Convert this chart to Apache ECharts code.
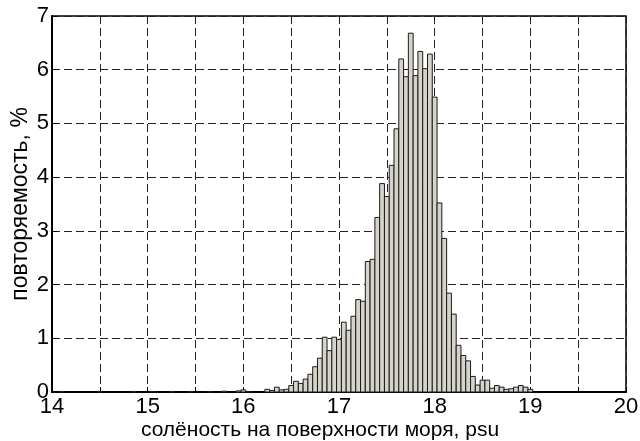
<!DOCTYPE html>
<html>
<head>
<meta charset="utf-8">
<script src="https://cdn.jsdelivr.net/npm/echarts@6/dist/echarts.min.js"></script>
<style>
  html, body { margin: 0; padding: 0; background: #fff; }
  #chart { width: 640px; height: 441px; }
</style>
</head>
<body>
<div id="chart"></div>
<script>
// Histogram of sea surface salinity: bin centres (psu) and frequency (%)
const binCenters = [
  14.10, 14.50, 14.85, 15.05, 15.25, 15.45, 15.65, 15.80, 15.95, 16.00,
  16.05, 16.25, 16.30, 16.35, 16.40, 16.45, 16.50, 16.55, 16.60, 16.65,
  16.70, 16.75, 16.80, 16.85, 16.90, 16.95, 17.00, 17.05, 17.10, 17.15,
  17.20, 17.25, 17.30, 17.35, 17.40, 17.45, 17.50, 17.55, 17.60, 17.65,
  17.70, 17.75, 17.80, 17.85, 17.90, 17.95, 18.00, 18.05, 18.10, 18.15,
  18.20, 18.25, 18.30, 18.35, 18.40, 18.45, 18.50, 18.55, 18.60, 18.65,
  18.70, 18.75, 18.80, 18.85, 18.90, 18.95, 19.00
];
const frequency = [
  0.01, 0.01, 0.01, 0.01, 0.01, 0.01, 0.01, 0.015, 0.02, 0.04,
  0.01, 0.05, 0.03, 0.09, 0.04, 0.05, 0.12, 0.20, 0.16, 0.24,
  0.33, 0.47, 0.63, 1.02, 0.77, 1.02, 0.98, 1.30, 1.15, 1.41,
  1.72, 1.69, 2.43, 2.47, 3.25, 3.88, 3.64, 4.22, 4.90, 6.20,
  5.87, 6.68, 5.89, 6.34, 6.02, 6.29, 5.49, 3.52, 2.86, 1.84,
  1.45, 0.87, 0.68, 0.58, 0.29, 0.13, 0.22, 0.22, 0.07, 0.12,
  0.09, 0.05, 0.06, 0.09, 0.12, 0.09, 0.05
];
const binWidth = 0.05;
const xTicks = [14, 15, 16, 17, 18, 19, 20];
const yTicks = [0, 1, 2, 3, 4, 5, 6, 7];
const xTitle = 'солёность на поверхности моря, psu';
const yTitle = 'повторяемость, %';

const FONT = 'Liberation Sans, Arial, sans-serif';
const xMin = xTicks[0], xMax = xTicks[xTicks.length - 1];

const gridLine = { show: true, lineStyle: { color: '#222', width: 1, type: [8, 4] } };

const chart = echarts.init(document.getElementById('chart'), null, { renderer: 'canvas' });
chart.setOption({
  animation: false,
  backgroundColor: '#ffffff',
  grid: {
    show: true, left: 52, top: 16, right: 14, bottom: 49,
    outerBoundsMode: 'none', containLabel: false,
    borderColor: '#000', borderWidth: 1.5, backgroundColor: 'transparent'
  },
  xAxis: {
    type: 'value',
    min: xMin,
    max: xMax,
    interval: 0.5,
    axisLine: { show: true, onZero: false, lineStyle: { color: '#000', width: 2 } },
    axisTick: { show: true, inside: true, length: 5, lineStyle: { color: '#000' } },
    axisLabel: {
      color: '#000', fontFamily: FONT, fontSize: 22, margin: 4,
      formatter: v => (xTicks.indexOf(v) >= 0 ? String(v) : '')
    },
    splitLine: gridLine
  },
  yAxis: {
    type: 'value',
    min: yTicks[0],
    max: yTicks[yTicks.length - 1],
    interval: 1,
    name: yTitle,
    nameLocation: 'middle',
    nameGap: 20,
    nameMoveOverlap: false,
    nameTextStyle: { color: '#000', fontFamily: FONT, fontSize: 23 },
    axisLine: { show: true, lineStyle: { color: '#000', width: 2 } },
    axisTick: { show: true, inside: true, length: 5, lineStyle: { color: '#000' } },
    axisLabel: { color: '#000', fontFamily: FONT, fontSize: 22, margin: 3 },
    splitLine: gridLine
  },
  graphic: [{
    type: 'text',
    left: 'center',
    top: 420,
    style: { text: xTitle, fill: '#000', font: '21px ' + FONT }
  }],
  series: [{
    type: 'custom',
    z: 3,
    data: binCenters.map((c, i) => [c, frequency[i]]),
    renderItem: (params, api) => {
      const c = api.value(0);
      const h = api.value(1);
      const p0 = api.coord([c - binWidth / 2, h]);
      const p1 = api.coord([c + binWidth / 2, 0]);
      return {
        type: 'rect',
        shape: { x: p0[0], y: p0[1], width: p1[0] - p0[0], height: p1[1] - p0[1] },
        style: { fill: '#d6d3cb', stroke: '#1a1a1a', lineWidth: 1 }
      };
    }
  }]
});
</script>
</body>
</html>
